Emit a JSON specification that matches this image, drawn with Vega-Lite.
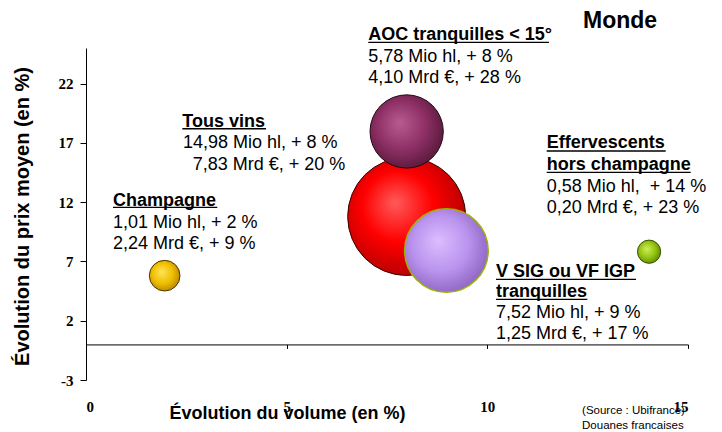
{
  "$schema": "https://vega.github.io/schema/vega-lite/v6.json",
  "width": 602,
  "height": 332,
  "autosize": "none",
  "padding": {"left": 86, "top": 48, "right": 34, "bottom": 52},
  "background": "white",
  "config": {"view": {"stroke": null}, "font": "Liberation Sans"},
  "datasets": {
    "bubbles": [
      {"name": "Champagne", "x": 1.96, "y": 5.8, "vol": 1.01},
      {"name": "Effervescents", "x": 14.03, "y": 7.82, "vol": 0.58},
      {"name": "Tous vins", "x": 7.99, "y": 10.79, "vol": 14.98},
      {"name": "AOC", "x": 7.99, "y": 17.96, "vol": 5.78},
      {"name": "VSIG", "x": 8.98, "y": 7.92, "vol": 7.52}
    ],
    "titles": [
      {"label": "AOC tranquilles < 15°", "x": 7.034, "y": 25.67},
      {"label": "Tous vins", "x": 2.4, "y": 18.36},
      {"label": "Champagne", "x": 0.673, "y": 11.67},
      {"label": "Effervescents", "x": 11.479, "y": 16.54},
      {"label": "hors champagne", "x": 11.479, "y": 14.71},
      {"label": "V SIG ou VF IGP", "x": 10.216, "y": 5.71},
      {"label": "tranquilles", "x": 10.216, "y": 4.025}
    ],
    "lines": [
      {"label": "5,78 Mio hl, + 8 %", "x": 7.034, "y": 23.84},
      {"label": "4,10 Mrd €, + 28 %", "x": 7.034, "y": 22.07},
      {"label": "14,98 Mio hl, + 8 %", "x": 2.417, "y": 16.54},
      {"label": "7,83 Mrd €, + 20 %", "x": 2.659, "y": 14.71},
      {"label": "1,01 Mio hl, + 2 %", "x": 0.673, "y": 9.79},
      {"label": "2,24 Mrd €, + 9 %", "x": 0.673, "y": 8.02},
      {"label": "0,58 Mio hl,\u00a0 + 14 %", "x": 11.479, "y": 12.88},
      {"label": "0,20 Mrd €, + 23 %", "x": 11.479, "y": 11.06},
      {"label": "7,52 Mio hl, + 9 %", "x": 10.216, "y": 2.2},
      {"label": "1,25 Mrd €, + 17 %", "x": 10.216, "y": 0.43}
    ],
    "underlines": [
      {"x": 2.4, "x2": 4.486, "y": 18.19},
      {"x": 0.673, "x2": 3.271, "y": 11.565},
      {"x": 7.034, "x2": 11.536, "y": 25.48},
      {"x": 11.479, "x2": 14.444, "y": 16.313},
      {"x": 11.479, "x2": 15.067, "y": 14.517},
      {"x": 10.216, "x2": 13.704, "y": 5.493},
      {"x": 10.216, "x2": 12.491, "y": 3.806}
    ],
    "heading": [
      {"label": "Monde", "x": 12.384, "y": 26.66}
    ],
    "notes": [
      {"label": "(Source : Ubifrance)", "x": 12.36, "y": -5.87},
      {"label": "Douanes francaises", "x": 12.36, "y": -7.13}
    ]
  },
  "layer": [
    {
      "data": {"name": "bubbles"},
      "transform": [{"filter": "datum.name == 'Champagne'"}],
      "mark": {"type": "circle", "opacity": 1, "stroke": "#4a3400", "strokeWidth": 1,
        "fill": {"gradient": "radial", "x1": 0.4, "y1": 0.38, "r1": 0, "x2": 0.45, "y2": 0.45, "r2": 0.6,
          "stops": [{"offset": 0, "color": "#FFE45A"}, {"offset": 0.55, "color": "#F0C000"}, {"offset": 1, "color": "#B88400"}]}},
      "encoding": {
        "x": {"field": "x", "type": "quantitative", "scale": {"domain": [0, 15], "nice": false},
          "axis": {"title": "Évolution du volume (en %)", "values": [0, 5, 10, 15], "offset": -35.57, "grid": false,
            "labelExpr": "'' + datum.value",
            "domainColor": "#000", "tickColor": "#000", "tickSize": 4,
            "labelFont": "Liberation Serif", "labelFontWeight": "bold", "labelFontSize": 15, "labelColor": "#000", "labelPadding": 51,
            "titleFont": "Liberation Sans", "titleFontWeight": "bold", "titleFontSize": 18, "titleColor": "#000",
            "titleX": 201, "titleY": 68.6, "titleBaseline": "middle", "titleAlign": "center"}},
        "y": {"field": "y", "type": "quantitative", "scale": {"domain": [-3, 25], "nice": false},
          "axis": {"title": "Évolution du prix moyen (en %)", "values": [-3, 2, 7, 12, 17, 22], "grid": false,
            "labelExpr": "'' + datum.value",
            "domainColor": "#000", "tickColor": "#000", "tickSize": 6,
            "labelFont": "Liberation Serif", "labelFontWeight": "bold", "labelFontSize": 15, "labelColor": "#000", "labelPadding": 7,
            "titleFont": "Liberation Sans", "titleFontWeight": "bold", "titleFontSize": 20, "titleColor": "#000",
            "titleX": -64, "titleY": 168, "titleBaseline": "middle", "titleAngle": -90, "titleAlign": "center"}},
        "size": {"field": "vol", "type": "quantitative", "scale": {"domain": [0, 14.98], "range": [0, 13924]}, "legend": null}
      }
    },
    {
      "data": {"name": "bubbles"},
      "transform": [{"filter": "datum.name == 'Effervescents'"}],
      "mark": {"type": "circle", "opacity": 1, "stroke": "#3a5000", "strokeWidth": 1,
        "fill": {"gradient": "radial", "x1": 0.4, "y1": 0.38, "r1": 0, "x2": 0.45, "y2": 0.45, "r2": 0.6,
          "stops": [{"offset": 0, "color": "#CDEE5A"}, {"offset": 0.55, "color": "#96C614"}, {"offset": 1, "color": "#5C8800"}]}},
      "encoding": {
        "x": {"field": "x", "type": "quantitative"},
        "y": {"field": "y", "type": "quantitative"},
        "size": {"field": "vol", "type": "quantitative", "legend": null}
      }
    },
    {
      "data": {"name": "bubbles"},
      "transform": [{"filter": "datum.name == 'Tous vins'"}],
      "mark": {"type": "circle", "opacity": 1, "stroke": "#3a0000", "strokeWidth": 1,
        "fill": {"gradient": "radial", "x1": 0.4, "y1": 0.38, "r1": 0, "x2": 0.45, "y2": 0.45, "r2": 0.6,
          "stops": [{"offset": 0, "color": "#FF5A5A"}, {"offset": 0.5, "color": "#FF0000"}, {"offset": 1, "color": "#B00000"}]}},
      "encoding": {
        "x": {"field": "x", "type": "quantitative"},
        "y": {"field": "y", "type": "quantitative"},
        "size": {"field": "vol", "type": "quantitative", "legend": null}
      }
    },
    {
      "data": {"name": "bubbles"},
      "transform": [{"filter": "datum.name == 'AOC'"}],
      "mark": {"type": "circle", "opacity": 1, "stroke": "#240818", "strokeWidth": 1,
        "fill": {"gradient": "radial", "x1": 0.4, "y1": 0.38, "r1": 0, "x2": 0.45, "y2": 0.45, "r2": 0.6,
          "stops": [{"offset": 0, "color": "#B85C90"}, {"offset": 0.55, "color": "#8E3066"}, {"offset": 1, "color": "#561838"}]}},
      "encoding": {
        "x": {"field": "x", "type": "quantitative"},
        "y": {"field": "y", "type": "quantitative"},
        "size": {"field": "vol", "type": "quantitative", "legend": null}
      }
    },
    {
      "data": {"name": "bubbles"},
      "transform": [{"filter": "datum.name == 'VSIG'"}],
      "mark": {"type": "circle", "opacity": 1, "stroke": "#9CB400", "strokeWidth": 1.5,
        "fill": {"gradient": "radial", "x1": 0.4, "y1": 0.38, "r1": 0, "x2": 0.45, "y2": 0.45, "r2": 0.6,
          "stops": [{"offset": 0, "color": "#DEBCFF"}, {"offset": 0.55, "color": "#BA94EE"}, {"offset": 1, "color": "#8C62C0"}]}},
      "encoding": {
        "x": {"field": "x", "type": "quantitative"},
        "y": {"field": "y", "type": "quantitative"},
        "size": {"field": "vol", "type": "quantitative", "legend": null}
      }
    },
    {
      "data": {"name": "titles"},
      "mark": {"type": "text", "align": "left", "baseline": "alphabetic", "font": "Liberation Sans", "fontWeight": "bold", "fontSize": 18, "color": "#000"},
      "encoding": {
        "x": {"field": "x", "type": "quantitative"},
        "y": {"field": "y", "type": "quantitative"},
        "text": {"field": "label", "type": "nominal"}
      }
    },
    {
      "data": {"name": "underlines"},
      "mark": {"type": "rule", "color": "#000", "strokeWidth": 1.3},
      "encoding": {
        "x": {"field": "x", "type": "quantitative"},
        "x2": {"field": "x2"},
        "y": {"field": "y", "type": "quantitative"}
      }
    },
    {
      "data": {"name": "lines"},
      "mark": {"type": "text", "align": "left", "baseline": "alphabetic", "font": "Liberation Sans", "fontSize": 18, "color": "#000"},
      "encoding": {
        "x": {"field": "x", "type": "quantitative"},
        "y": {"field": "y", "type": "quantitative"},
        "text": {"field": "label", "type": "nominal"}
      }
    },
    {
      "data": {"name": "heading"},
      "mark": {"type": "text", "align": "left", "baseline": "alphabetic", "font": "Liberation Sans", "fontWeight": "bold", "fontSize": 23, "color": "#000"},
      "encoding": {
        "x": {"field": "x", "type": "quantitative"},
        "y": {"field": "y", "type": "quantitative"},
        "text": {"field": "label", "type": "nominal"}
      }
    },
    {
      "data": {"name": "notes"},
      "mark": {"type": "text", "align": "left", "baseline": "alphabetic", "font": "Liberation Sans Narrow, Liberation Sans", "fontSize": 11.5, "color": "#000"},
      "encoding": {
        "x": {"field": "x", "type": "quantitative"},
        "y": {"field": "y", "type": "quantitative"},
        "text": {"field": "label", "type": "nominal"}
      }
    }
  ]
}
